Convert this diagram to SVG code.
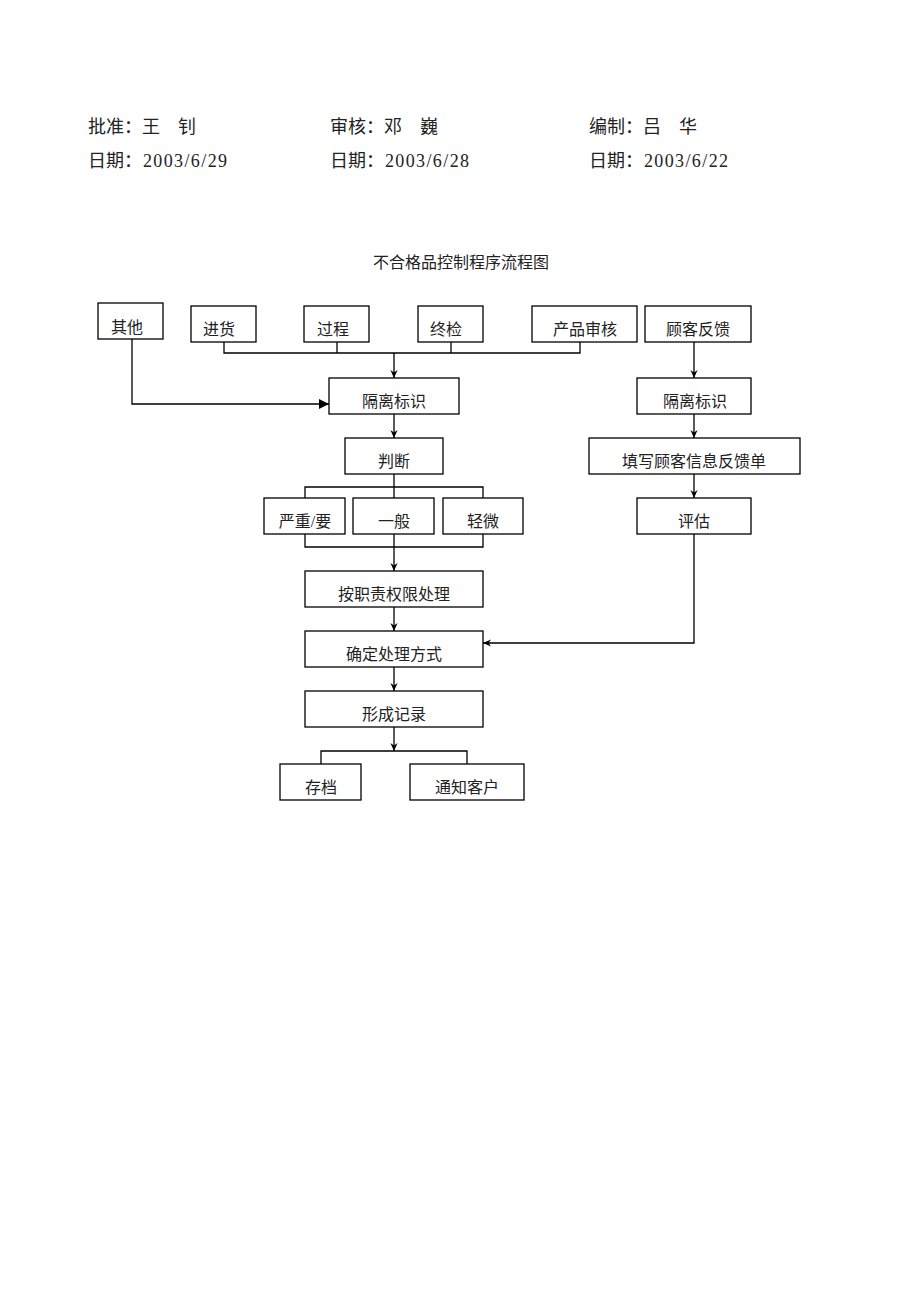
<svg xmlns="http://www.w3.org/2000/svg" width="920" height="1302" viewBox="0 0 920 1302">
<style>
.hd{font-family:"Liberation Serif","Noto Sans CJK SC",serif;font-size:18px;fill:#222}
.tt{font-family:"Liberation Serif","Noto Sans CJK SC",serif;font-size:16px;fill:#222;text-anchor:middle}
.bx rect{fill:#fff;stroke:#000;stroke-width:1.3}
.bx text{font-family:"Liberation Serif","Noto Sans CJK SC",serif;font-size:16px;fill:#222;text-anchor:middle}
.cn{fill:none;stroke:#000;stroke-width:1.3}
</style>
<defs>
<marker id="a" viewBox="0 0 10 10" refX="10" refY="5" markerWidth="10" markerHeight="8" orient="auto" markerUnits="userSpaceOnUse">
<path d="M0,0.5 L10,5 L0,9.5 L3,5 Z" fill="#000"/>
</marker>
<marker id="b" viewBox="0 0 10 10" refX="10" refY="5" markerWidth="10" markerHeight="10" orient="auto" markerUnits="userSpaceOnUse">
<path d="M0,0 L10,5 L0,10 Z" fill="#000"/>
</marker>
</defs>
<rect width="920" height="1302" fill="#fff"/>
<g id="header">
<text class="hd" x="88" y="133">批准：王　钊</text>
<text class="hd" x="330" y="133">审核：邓　巍</text>
<text class="hd" x="589" y="133">编制：吕　华</text>
<text class="hd" x="88" y="167">日期：<tspan x="143" textLength="84" lengthAdjust="spacing">2003/6/29</tspan></text>
<text class="hd" x="330" y="167">日期：<tspan x="385" textLength="84" lengthAdjust="spacing">2003/6/28</tspan></text>
<text class="hd" x="589" y="167">日期：<tspan x="644" textLength="84" lengthAdjust="spacing">2003/6/22</tspan></text>
</g>
<text id="title" class="tt" x="461" y="268">不合格品控制程序流程图</text>
<g id="connectors">
<polyline class="cn" points="224,342 224,353 580,353 580,342"/>
<line class="cn" x1="337" y1="342" x2="337" y2="353"/>
<line class="cn" x1="451" y1="342" x2="451" y2="353"/>
<line class="cn" x1="394" y1="353" x2="394" y2="378" marker-end="url(#a)"/>
<polyline class="cn" points="132,339 132,404 329,404" marker-end="url(#b)"/>
<line class="cn" x1="394" y1="414" x2="394" y2="438" marker-end="url(#a)"/>
<line class="cn" x1="394" y1="474" x2="394" y2="498"/>
<polyline class="cn" points="305,498 305,487 483,487 483,498"/>
<polyline class="cn" points="305,534 305,547 483,547 483,534"/>
<line class="cn" x1="394" y1="534" x2="394" y2="571" marker-end="url(#a)"/>
<line class="cn" x1="394" y1="607" x2="394" y2="631" marker-end="url(#a)"/>
<line class="cn" x1="394" y1="667" x2="394" y2="691" marker-end="url(#a)"/>
<line class="cn" x1="394" y1="727" x2="394" y2="751" marker-end="url(#a)"/>
<polyline class="cn" points="321,764 321,751 467,751 467,764"/>
<line class="cn" x1="694" y1="342" x2="694" y2="378" marker-end="url(#a)"/>
<line class="cn" x1="694" y1="414" x2="694" y2="438" marker-end="url(#a)"/>
<line class="cn" x1="694" y1="474" x2="694" y2="498" marker-end="url(#a)"/>
<polyline class="cn" points="694,534 694,643 483,643" marker-end="url(#a)"/>
</g>
<g id="n-qita" class="bx"><rect x="98" y="303" width="65" height="36"/><text x="127" y="333">其他</text></g>
<g id="n-jinhuo" class="bx"><rect x="191" y="306" width="65" height="36"/><text x="219" y="335">进货</text></g>
<g id="n-guocheng" class="bx"><rect x="304" y="306" width="65" height="36"/><text x="333" y="335">过程</text></g>
<g id="n-zhongjian" class="bx"><rect x="418" y="306" width="65" height="36"/><text x="446" y="335">终检</text></g>
<g id="n-chanpin" class="bx"><rect x="532" y="306" width="105" height="36"/><text x="585" y="335">产品审核</text></g>
<g id="n-guke" class="bx"><rect x="645" y="306" width="106" height="36"/><text x="698" y="335">顾客反馈</text></g>
<g id="n-geli1" class="bx"><rect x="329" y="378" width="130" height="36"/><text x="394" y="407">隔离标识</text></g>
<g id="n-geli2" class="bx"><rect x="637" y="378" width="114" height="36"/><text x="695" y="407">隔离标识</text></g>
<g id="n-panduan" class="bx"><rect x="345" y="438" width="98" height="36"/><text x="394" y="467">判断</text></g>
<g id="n-tianxie" class="bx"><rect x="589" y="438" width="211" height="36"/><text x="694" y="467">填写顾客信息反馈单</text></g>
<g id="n-yanzhong" class="bx"><rect x="264" y="498" width="81" height="36"/><text x="305" y="527">严重/要</text></g>
<g id="n-yiban" class="bx"><rect x="353" y="498" width="81" height="36"/><text x="394" y="527">一般</text></g>
<g id="n-qingwei" class="bx"><rect x="443" y="498" width="80" height="36"/><text x="483" y="527">轻微</text></g>
<g id="n-pinggu" class="bx"><rect x="637" y="498" width="114" height="36"/><text x="694" y="527">评估</text></g>
<g id="n-anzhize" class="bx"><rect x="305" y="571" width="178" height="36"/><text x="394" y="600">按职责权限处理</text></g>
<g id="n-queding" class="bx"><rect x="305" y="631" width="178" height="36"/><text x="394" y="660">确定处理方式</text></g>
<g id="n-xingcheng" class="bx"><rect x="305" y="691" width="178" height="36"/><text x="394" y="720">形成记录</text></g>
<g id="n-cundang" class="bx"><rect x="280" y="764" width="81" height="36"/><text x="321" y="793">存档</text></g>
<g id="n-tongzhi" class="bx"><rect x="410" y="764" width="114" height="36"/><text x="467" y="793">通知客户</text></g>
</svg>
